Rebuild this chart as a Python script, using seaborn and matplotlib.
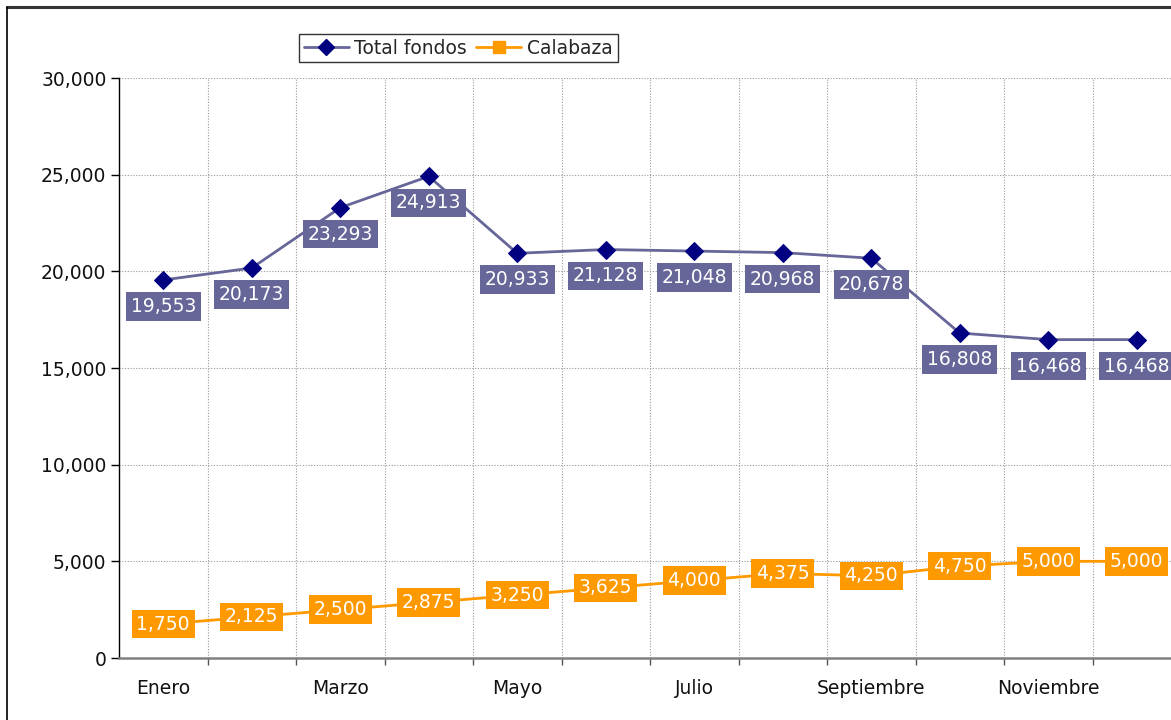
"""Total fondos vs Calabaza por mes — gráfico de líneas con etiquetas."""
import matplotlib
matplotlib.use("Agg")
import matplotlib.pyplot as plt
import numpy as np
import pandas as pd
import seaborn as sns
from matplotlib.lines import Line2D
from matplotlib.ticker import FuncFormatter, FixedLocator

# ---------------------------------------------------------------------------
# datos
# ---------------------------------------------------------------------------
MESES = ["Enero", "Febrero", "Marzo", "Abril", "Mayo", "Junio", "Julio",
         "Agosto", "Septiembre", "Octubre", "Noviembre", "Diciembre"]
TOTAL_FONDOS = [19553, 20173, 23293, 24913, 20933, 21128, 21048, 20968,
                20678, 16808, 16468, 16468]
CALABAZA = [1750, 2125, 2500, 2875, 3250, 3625, 4000, 4375, 4250, 4750,
            5000, 5000]

C_TOTAL_LINE = "#666699"
C_TOTAL_MARK = "#000080"
C_CALA = "#FF9900"
FS = 13.5

sns.set_theme(style="white")
plt.rcParams["font.family"] = ["DejaVu Sans"]

W, H = 1171, 720
fig = plt.figure(figsize=(W / 100, H / 100), dpi=100)
# el área del gráfico se sale por la derecha, como en el original
ax = fig.add_axes([119 / W, 62 / H, 1062 / W, 580 / H])

df = pd.DataFrame({"idx": np.arange(len(MESES)), "mes": MESES,
                   "total": TOTAL_FONDOS, "cala": CALABAZA})

sns.lineplot(data=df, x="idx", y="total", ax=ax, color=C_TOTAL_LINE,
             linewidth=2, marker="D", markersize=9,
             markerfacecolor=C_TOTAL_MARK, markeredgecolor=C_TOTAL_MARK,
             zorder=3)
sns.lineplot(data=df, x="idx", y="cala", ax=ax, color=C_CALA,
             linewidth=2, marker="s", markersize=8,
             markerfacecolor=C_CALA, markeredgecolor=C_CALA, zorder=3)

for i, v in enumerate(TOTAL_FONDOS):
    ax.annotate(f"{v:,}", (i, v), xytext=(0, -19), textcoords="offset points",
                ha="center", va="center", fontsize=FS, color="white",
                zorder=5,
                bbox=dict(boxstyle="square,pad=0.25", fc=C_TOTAL_LINE, ec="none"))
for i, v in enumerate(CALABAZA):
    ax.annotate(f"{v:,}", (i, v), xytext=(0, 0), textcoords="offset points",
                ha="center", va="center", fontsize=FS, color="white",
                zorder=5,
                bbox=dict(boxstyle="square,pad=0.25", fc=C_CALA, ec="none"))

# ejes
ax.set_xlim(-0.5, len(MESES) - 0.5)
ax.set_ylim(0, 30000)
ax.set_yticks(np.arange(0, 30001, 5000))
ax.yaxis.set_major_formatter(FuncFormatter(lambda v, p: f"{int(v):,}"))
ax.xaxis.set_major_locator(FixedLocator(np.arange(0.5, len(MESES) - 0.5, 1)))
ax.xaxis.set_major_formatter(FuncFormatter(lambda v, p: ""))
ax.xaxis.set_minor_locator(FixedLocator(np.arange(0, len(MESES), 2)))
ax.set_xticklabels([MESES[i] for i in range(0, len(MESES), 2)], minor=True)
ax.tick_params(axis="x", which="major", direction="out", length=5,
               width=1, color="#555555", bottom=True)
ax.tick_params(axis="x", which="minor", length=0, pad=15, labelsize=FS,
               labelcolor="#111111", bottom=True)
ax.tick_params(axis="y", direction="out", length=6, width=1, color="black",
               left=True, pad=3, labelsize=FS, labelcolor="#111111")
ax.set_xlabel("")
ax.set_ylabel("")

ax.grid(True, which="major", linestyle=(0, (1, 1.5)), linewidth=0.8,
        color="#999999")
ax.set_axisbelow(True)
for side in ("top", "right"):
    ax.spines[side].set_visible(False)
ax.spines["left"].set_color("black")
ax.spines["left"].set_linewidth(1)
ax.spines["bottom"].set_color("#808080")
ax.spines["bottom"].set_linewidth(1.8)

# leyenda
handles = [
    Line2D([], [], color=C_TOTAL_LINE, lw=2, marker="D", markersize=8,
           markerfacecolor=C_TOTAL_MARK, markeredgecolor=C_TOTAL_MARK),
    Line2D([], [], color=C_CALA, lw=2, marker="s", markersize=8,
           markerfacecolor=C_CALA, markeredgecolor=C_CALA),
]
leg = fig.legend(handles, ["Total fondos", "Calabaza"], loc="upper left",
                 bbox_to_anchor=(299 / W, 1 - 34 / H), ncol=2, fontsize=FS,
                 frameon=True, fancybox=False, handlelength=2.4,
                 handletextpad=0.3, columnspacing=0.5, borderpad=0.25,
                 borderaxespad=0)
leg.get_frame().set_edgecolor("black")
leg.get_frame().set_linewidth(1)

# marco de la figura (solo arriba e izquierda visibles)
fig.add_artist(Line2D([6.5 / W, 1], [1 - 6.5 / H, 1 - 6.5 / H],
                      color="#333333", lw=2.2))
fig.add_artist(Line2D([6.5 / W, 6.5 / W], [0, 1 - 6.5 / H],
                      color="black", lw=1.2))

fig.savefig("out.png", dpi=100)
